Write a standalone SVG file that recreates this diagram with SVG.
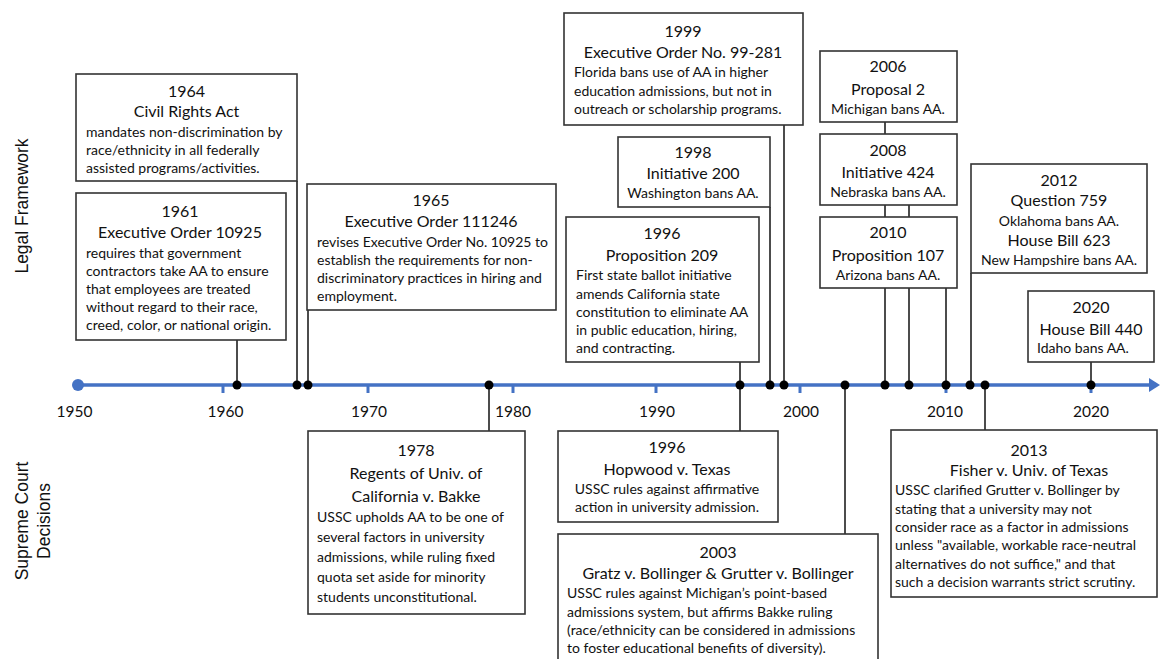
<svg xmlns="http://www.w3.org/2000/svg" width="1161" height="659" viewBox="0 0 1161 659">
<style>
text{font-family:Lato,"Liberation Sans",sans-serif;fill:#111}
.box{fill:#fff;stroke:#333;stroke-width:1.6}
.t{font-size:16px;text-anchor:middle}
.b{font-size:14px}
.c{font-size:14px;text-anchor:middle}
.side{font-family:"Liberation Sans",Arial,sans-serif;font-size:17.5px;text-anchor:middle}
.yr{font-size:15.5px;text-anchor:middle}
.conn{stroke:#111;stroke-width:1.5;fill:none}
.dot{fill:#000}
.tick{stroke:#4472C4;stroke-width:3}
</style>

<text class="side" transform="translate(28,206) rotate(-90)">Legal Framework</text>
<text class="side" transform="translate(28,521) rotate(-90)">Supreme Court</text>
<text class="side" transform="translate(50,521) rotate(-90)">Decisions</text>

<g id="axis">
<line x1="78" y1="385" x2="1151" y2="385" stroke="#4472C4" stroke-width="3.5"/>
<polygon points="1149,378 1160,385 1149,392" fill="#4472C4"/>
<circle cx="78" cy="385" r="6" fill="#4472C4"/>
<line class="tick" x1="223" y1="385" x2="223" y2="393"/>
<line class="tick" x1="368" y1="385" x2="368" y2="393"/>
<line class="tick" x1="513" y1="385" x2="513" y2="393"/>
<line class="tick" x1="656" y1="385" x2="656" y2="393"/>
<line class="tick" x1="800" y1="385" x2="800" y2="393"/>
<line class="tick" x1="946" y1="385" x2="946" y2="393"/>
<line class="tick" x1="1091" y1="385" x2="1091" y2="393"/>
<text class="yr" x="74.5" y="416.5">1950</text>
<text class="yr" x="225.5" y="416.5">1960</text>
<text class="yr" x="369" y="416.5">1970</text>
<text class="yr" x="513" y="416.5">1980</text>
<text class="yr" x="657" y="416.5">1990</text>
<text class="yr" x="801" y="416.5">2000</text>
<text class="yr" x="945" y="416.5">2010</text>
<text class="yr" x="1091" y="416.5">2020</text>
</g>

<g id="connectors">
<line class="conn" x1="237" y1="340" x2="237" y2="385"/>
<line class="conn" x1="297" y1="181" x2="297" y2="385"/>
<line class="conn" x1="308" y1="310" x2="308" y2="385"/>
<line class="conn" x1="489" y1="385" x2="489" y2="431"/>
<line class="conn" x1="740" y1="362" x2="740" y2="431"/>
<line class="conn" x1="770" y1="207" x2="770" y2="385"/>
<line class="conn" x1="784" y1="125" x2="784" y2="385"/>
<line class="conn" x1="845" y1="385" x2="845" y2="534"/>
<line class="conn" x1="885" y1="122" x2="885" y2="385"/>
<line class="conn" x1="909" y1="205" x2="909" y2="385"/>
<line class="conn" x1="946" y1="288" x2="946" y2="385"/>
<line class="conn" x1="971" y1="273" x2="971" y2="385"/>
<line class="conn" x1="985" y1="385" x2="985" y2="430"/>
<line class="conn" x1="1091" y1="362" x2="1091" y2="385"/>
<circle class="dot" cx="237" cy="385" r="4.5"/>
<circle class="dot" cx="297" cy="385" r="4.5"/>
<circle class="dot" cx="308" cy="385" r="4.5"/>
<circle class="dot" cx="489" cy="385" r="4.5"/>
<circle class="dot" cx="740" cy="385" r="4.5"/>
<circle class="dot" cx="770" cy="385" r="4.5"/>
<circle class="dot" cx="784" cy="385" r="4.5"/>
<circle class="dot" cx="845" cy="385" r="4.5"/>
<circle class="dot" cx="885" cy="385" r="4.5"/>
<circle class="dot" cx="909" cy="385" r="4.5"/>
<circle class="dot" cx="946" cy="385" r="4.5"/>
<circle class="dot" cx="970" cy="385" r="4.5"/>
<circle class="dot" cx="985" cy="385" r="4.5"/>
<circle class="dot" cx="1091" cy="385" r="4.5"/>
</g>

<g id="n1964">
<rect class="box" x="76" y="74" width="221" height="107"/>
<text class="t" x="186.5" y="97">1964</text>
<text class="t" x="186.5" y="117">Civil Rights Act</text>
<text class="b" x="86" y="136.5">mandates non-discrimination by</text>
<text class="b" x="86" y="154.5">race/ethnicity in all federally</text>
<text class="b" x="86" y="172.5">assisted programs/activities.</text>
</g>

<g id="n1961">
<rect class="box" x="76" y="193" width="210" height="147"/>
<text class="t" x="180" y="217">1961</text>
<text class="t" x="180" y="238">Executive Order 10925</text>
<text class="b" x="86" y="257.5">requires that government</text>
<text class="b" x="86" y="275.5">contractors take AA to ensure</text>
<text class="b" x="86" y="293.5">that employees are treated</text>
<text class="b" x="86" y="311.5">without regard to their race,</text>
<text class="b" x="86" y="329.5">creed, color, or national origin.</text>
</g>

<g id="n1965">
<rect class="box" x="307" y="184" width="249" height="126"/>
<text class="t" x="431" y="206">1965</text>
<text class="t" x="431" y="227">Executive Order 111246</text>
<text class="b" x="317" y="246.5">revises Executive Order No. 10925 to</text>
<text class="b" x="317" y="264.5">establish the requirements for non-</text>
<text class="b" x="317" y="282.5">discriminatory practices in hiring and</text>
<text class="b" x="317" y="300.5">employment.</text>
</g>

<g id="n1999">
<rect class="box" x="564" y="13" width="239" height="112"/>
<text class="t" x="683" y="37">1999</text>
<text class="t" x="683" y="58">Executive Order No. 99-281</text>
<text class="b" x="574" y="76.5">Florida bans use of AA in higher</text>
<text class="b" x="574" y="95.5">education admissions, but not in</text>
<text class="b" x="574" y="114">outreach or scholarship programs.</text>
</g>

<g id="n1998">
<rect class="box" x="618" y="137" width="152" height="70"/>
<text class="t" x="693" y="158">1998</text>
<text class="t" x="693" y="179">Initiative 200</text>
<text class="c" x="693" y="197.5">Washington bans AA.</text>
</g>

<g id="n1996p">
<rect class="box" x="566" y="217" width="193" height="145"/>
<text class="t" x="662" y="239">1996</text>
<text class="t" x="662" y="260.5">Proposition 209</text>
<text class="b" x="576" y="280">First state ballot initiative</text>
<text class="b" x="576" y="298.5">amends California state</text>
<text class="b" x="576" y="316.5">constitution to eliminate AA</text>
<text class="b" x="576" y="335">in public education, hiring,</text>
<text class="b" x="576" y="353">and contracting.</text>
</g>

<g id="n2006">
<rect class="box" x="820" y="51" width="137" height="71"/>
<text class="t" x="888" y="72">2006</text>
<text class="t" x="888" y="94.5">Proposal 2</text>
<text class="c" x="888" y="114">Michigan bans AA.</text>
</g>

<g id="n2008">
<rect class="box" x="820" y="134" width="137" height="71"/>
<text class="t" x="888" y="155.5">2008</text>
<text class="t" x="888" y="177.5">Initiative 424</text>
<text class="c" x="888" y="196.5">Nebraska bans AA.</text>
</g>

<g id="n2010">
<rect class="box" x="820" y="217" width="137" height="71"/>
<text class="t" x="888" y="238">2010</text>
<text class="t" x="888" y="260.5">Proposition 107</text>
<text class="c" x="888" y="280">Arizona bans AA.</text>
</g>

<g id="n2012">
<rect class="box" x="971" y="164" width="176" height="109"/>
<text class="t" x="1059" y="185.5">2012</text>
<text class="t" x="1059" y="206">Question 759</text>
<text class="c" x="1059" y="225.5">Oklahoma bans AA.</text>
<text class="t" x="1059" y="246">House Bill 623</text>
<text class="c" x="1059" y="265">New Hampshire bans AA.</text>
</g>

<g id="n2020">
<rect class="box" x="1028" y="291" width="126" height="71"/>
<text class="t" x="1091" y="312.5">2020</text>
<text class="t" x="1091" y="334.5">House Bill 440</text>
<text class="b" x="1037" y="353">Idaho bans AA.</text>
</g>

<g id="n1978">
<rect class="box" x="308" y="431" width="217" height="183"/>
<text class="t" x="416" y="455.5">1978</text>
<text class="t" x="416" y="479">Regents of Univ. of</text>
<text class="t" x="416" y="502">California v. Bakke</text>
<text class="b" x="317" y="522">USSC upholds AA to be one of</text>
<text class="b" x="317" y="542">several factors in university</text>
<text class="b" x="317" y="562">admissions, while ruling fixed</text>
<text class="b" x="317" y="582">quota set aside for minority</text>
<text class="b" x="317" y="601.5">students unconstitutional.</text>
</g>

<g id="n1996h">
<rect class="box" x="558" y="431" width="220" height="91"/>
<text class="t" x="667" y="452.5">1996</text>
<text class="t" x="667" y="474.5">Hopwood v. Texas</text>
<text class="c" x="667" y="494">USSC rules against affirmative</text>
<text class="c" x="667" y="512">action in university admission.</text>
</g>

<g id="n2003">
<rect class="box" x="558" y="534" width="320" height="130"/>
<text class="t" x="718" y="558">2003</text>
<text class="t" x="718" y="579">Gratz v. Bollinger &amp; Grutter v. Bollinger</text>
<text class="b" x="567" y="598">USSC rules against Michigan’s point-based</text>
<text class="b" x="567" y="617">admissions system, but affirms Bakke ruling</text>
<text class="b" x="567" y="635">(race/ethnicity can be considered in admissions</text>
<text class="b" x="567" y="653">to foster educational benefits of diversity).</text>
</g>

<g id="n2013">
<rect class="box" x="891" y="430" width="266" height="167"/>
<text class="t" x="1029" y="456">2013</text>
<text class="t" x="1029" y="475.5">Fisher v. Univ. of Texas</text>
<text class="b" x="895" y="495">USSC clarified Grutter v. Bollinger by</text>
<text class="b" x="895" y="513.5">stating that a university may not</text>
<text class="b" x="895" y="532">consider race as a factor in admissions</text>
<text class="b" x="895" y="550">unless "available, workable race-neutral</text>
<text class="b" x="895" y="568.5">alternatives do not suffice," and that</text>
<text class="b" x="895" y="587">such a decision warrants strict scrutiny.</text>
</g>
</svg>
